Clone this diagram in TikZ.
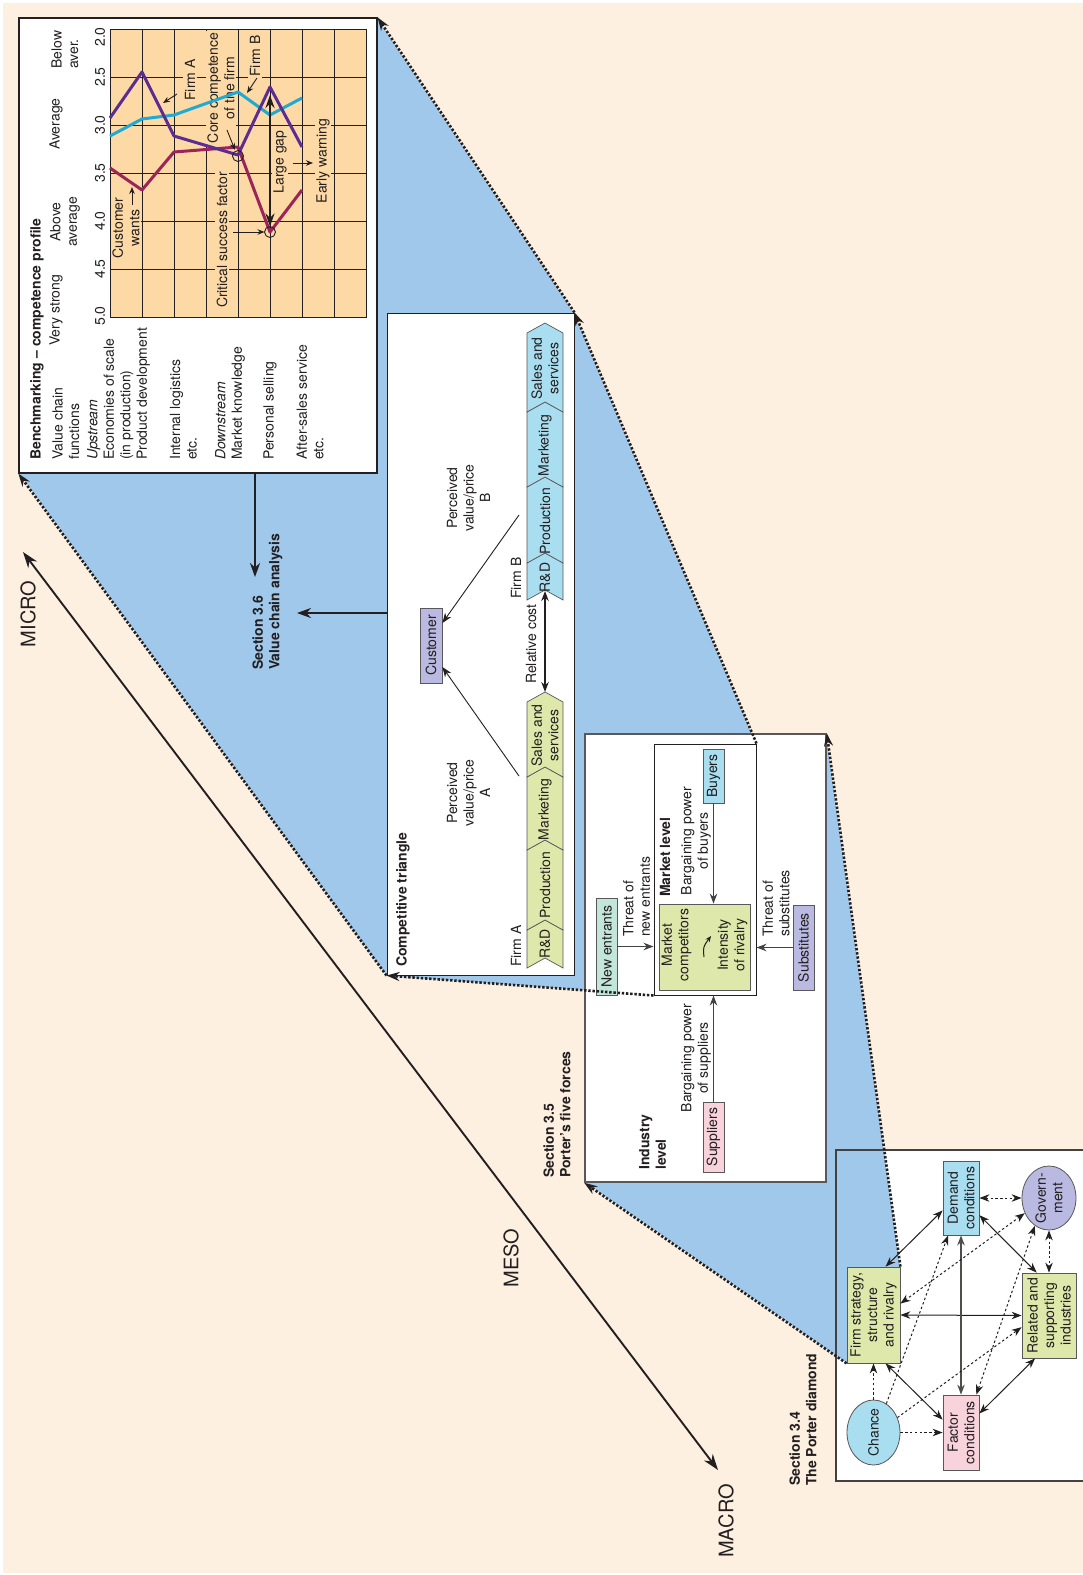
\documentclass[tikz,border=0pt]{standalone}
\usepackage{fontspec}
\setmainfont{TeX Gyre Heros}
\usetikzlibrary{arrows.meta,shapes.geometric}

\definecolor{cream}{HTML}{FDF0E0}
\definecolor{skyfill}{HTML}{9FC8EA}
\definecolor{gridfill}{HTML}{FDD9A5}
\definecolor{greenbox}{HTML}{DDE8AA}
\definecolor{cyanbox}{HTML}{A8DEF0}
\definecolor{lavbox}{HTML}{B9B9E1}
\definecolor{pinkbox}{HTML}{F8D3DC}
\definecolor{mintbox}{HTML}{C2E6D9}
\definecolor{ink}{HTML}{231F20}
\definecolor{firma}{HTML}{5C2D91}
\definecolor{firmb}{HTML}{1EAAD2}
\definecolor{custw}{HTML}{9C2459}

\newcommand\fs{\fontsize{14}{16.5}\selectfont}
\newcommand\flarge{\fontsize{20}{24}\selectfont}
% one value-chain chevron: left x, middle x, right x, bottom y, top y, fill
\newcommand\chevron[6]{%
  \filldraw[fill=#6, draw=ink!75, line width=0.7pt]
    (#1,#4) -- (#2,{#4-10}) -- (#3,#4) -- (#3,#5) -- (#2,{#5-10}) -- (#1,#5) -- cycle;}

\tikzset{
  rt/.style={rotate=90, inner sep=0pt, font=\fs, text=ink},
  rtl/.style={rt, anchor=west, align=left},
  rtc/.style={rt, align=center},
  onorange/.style={fill=gridfill, inner sep=1.5pt},
  panel/.style={draw=ink, line width=1pt, inner sep=0pt},
  smallbox/.style={draw=ink!75, line width=0.8pt, inner sep=0pt},
  oval/.style={ellipse, draw=ink!75, line width=0.8pt, inner sep=0pt},
  arr/.style={-{Stealth[length=7pt,width=5.5pt]}},
  darr/.style={{Stealth[length=7pt,width=5.5pt]}-{Stealth[length=7pt,width=5.5pt]}},
  farr/.style={-{Stealth[length=10pt,width=7.5pt]}},
  dfarr/.style={{Stealth[length=10pt,width=7.5pt]}-{Stealth[length=10pt,width=7.5pt]}},
  bigarr/.style={line width=2.2pt, -{Stealth[length=14pt,width=10pt]}},
  proj/.style={draw=ink, line width=2.6pt, dash pattern=on 2.4pt off 1.8pt,
    -{Stealth[length=13pt,width=9pt]}},
  dots/.style={dash pattern=on 2.4pt off 2.4pt},
  series/.style={line width=3pt, line join=round},
  gridline/.style={draw=ink, line width=0.8pt},
}

\begin{document}
\begin{tikzpicture}[x=1pt,y=-1pt]
\useasboundingbox (0,0) rectangle (1083,1575);
\fill[white] (0,0) rectangle (1083,1575);
\fill[cream] (3,3) rectangle (1083,1573);

% white ground of the diamond panel, then the blue projection band
\fill[white] (836,1150) rectangle (1090,1481);
\fill[skyfill] (19,473) -- (19,18) -- (377,18) -- (574,313) -- (756,744) -- (826,734)
  -- (900,1267) -- (847,1363) -- (585,1182) -- (585,990) -- (387,976) -- cycle;

% ---------------- panels
\node[panel, draw=ink!85, line width=1.2pt, minimum width=254pt, minimum height=331pt] (diamond) at (963,1315.5) {};
\node[panel, line width=1.2pt, fill=white, minimum width=358pt, minimum height=455pt] (chart) at (198,245.5) {};
\node[panel, fill=white, minimum width=187pt, minimum height=662pt] (tri) at (480.5,644) {};
\node[panel, draw=ink!75, line width=1.5pt, fill=white, minimum width=241pt, minimum height=448pt] (ff) at (705.5,958) {};
\node[panel, fill=white, minimum width=102pt, minimum height=251pt] (mkt) at (705,869.5) {};

% ---------------- micro / meso / macro axis
\coordinate (microend) at (23,552);
\coordinate (macroend) at (718,1470);
\draw[ink, line width=1.9pt, {Stealth[length=16pt,width=11pt]}-{Stealth[length=16pt,width=11pt]}] (microend) -- (macroend);
\node[rt, font=\flarge] (micro) at (28,614) {MICRO};
\node[rt, font=\flarge] (meso) at (511,1258) {MESO};
\node[rt, font=\flarge] (macro) at (726,1521) {MACRO};

% ---------------- benchmarking chart
\fill[gridfill] (110,29) rectangle (366,317);
\foreach \x in {142,174,...,334} \draw[gridline] (\x,29) -- (\x,317);
\foreach \y in {77,125,...,269} \draw[gridline] (110,\y) -- (366,\y);
\draw[gridline, line width=0.9pt] (110,29) rectangle (366,317);

\node[rt] (v20) at (100,37) {2.0};
\node[rt] (v25) at (100,77) {2.5};
\node[rt] (v30) at (100,125) {3.0};
\node[rt] (v35) at (100,173) {3.5};
\node[rt] (v40) at (100,221) {4.0};
\node[rt] (v45) at (100,269) {4.5};
\node[rt] (v50) at (100,316) {5.0};

\node[rtl] (hbelow) at (65,69) {Below\\aver.};
\node[rtl] (haverage) at (56,150) {Average};
\node[rtc] (habove) at (65,222) {Above\\average};
\node[rtl] (hstrong) at (56,346) {Very strong};

\node[rtl, font=\fs\bfseries] (bmtitle) at (37,460) {Benchmarking – competence profile};
\node[rtl] (vcf) at (66,460) {Value chain\\functions};
\node[rtl] (upstream) at (118.5,460) {\textit{Upstream}\\Economies of scale\\(in production)\\Product development};
\node[rtl] (logistics) at (183.5,460) {Internal logistics\\etc.};
\node[rtl] (downstream) at (230,460) {\textit{Downstream}\\Market knowledge};
\node[rtl] (selling) at (270,460) {Personal selling};
\node[rtl] (aftersales) at (310,460) {After-sales service\\etc.};

% chart annotations
\node[rtc, onorange] (lfirma) at (190,80) {Firm A};
\node[rtc, onorange] (lcore) at (221,88) {Core competence\\of the firm};
\node[rtc, onorange] (lfirmb) at (255,56) {Firm B};
\node[rtc, onorange] (lcust) at (126,228) {Customer\\wants};
\node[rtc, onorange] (lcsf) at (222,240) {Critical success factor};
\node[rtc, onorange] (lgap) at (280,162) {Large gap};
\node[rtc, onorange] (lwarn) at (323,161) {Early warning};

\draw[series, custw] (110,168) -- (142,190) -- (174,152) -- (238,147) -- (270,232) -- (302,190);
\draw[series, firmb] (110,136) -- (142,119) -- (174,115) -- (238,92) -- (270,115) -- (302,98);
\draw[series, firma] (110,118) -- (142,72) -- (174,136) -- (238,155) -- (270,87) -- (302,147);

\coordinate (core) at (238,156);
\coordinate (csf) at (270,232);
\draw[ink, line width=0.9pt] (core) circle[radius=5.5pt];
\draw[ink, line width=0.9pt] (csf) circle[radius=5.5pt];

\coordinate (afrom) at (177,94);   \coordinate (ato) at (163,103);
\draw[ink, line width=0.9pt, arr] (afrom) -- (ato);
\coordinate (bfrom) at (257,78);   \coordinate (bto) at (247,93);
\draw[ink, line width=0.9pt, arr] (bfrom) -- (bto);
\coordinate (cfrom) at (227,130);  \coordinate (cto) at (235,150);
\draw[ink, line width=0.9pt, arr] (cfrom) -- (cto);
\coordinate (wfrom) at (132,205);  \coordinate (wto) at (132,187);
\draw[ink, line width=0.9pt, arr] (wfrom) -- (wto);
\coordinate (sfrom) at (233,232);
\draw[ink, line width=0.9pt, arr] (sfrom) -- ([xshift=-5.5pt]csf);
\coordinate (ewfrom) at (293,163); \coordinate (ewto) at (313,163);
\draw[ink, line width=0.9pt, arr] (ewfrom) -- (ewto);
\coordinate (gaptop) at (270,95);
\draw[ink, line width=2.2pt, {Stealth[length=13pt,width=9pt]}-{Stealth[length=13pt,width=9pt]}] (gaptop) -- ([yshift=5.5pt]csf);

% ---------------- section 3.6 and its arrows
\node[rtl, font=\fs\bfseries] (sec36) at (267.5,670) {Section 3.6\\Value chain analysis};
\coordinate (chartfoot) at (255,577);
\draw[ink, bigarr] ([xshift=57pt]chart.south) -- (chartfoot);
\coordinate (trifoot) at (297,613);
\draw[ink, bigarr] ([yshift=31pt]tri.west) -- (trifoot);

% ---------------- competitive triangle
\node[rtl, font=\fs\bfseries] (cttitle) at (403,967) {Competitive triangle};

\chevron{527}{545}{563}{968}{930}{greenbox}
\chevron{527}{545}{563}{930}{850}{greenbox}
\chevron{527}{545}{563}{850}{777}{greenbox}
\chevron{527}{545}{563}{777}{702}{greenbox}
\node[rt] (ard) at (545,944) {R\&D};
\node[rt] (aprod) at (545,885) {Production};
\node[rt] (amark) at (545,809.5) {Marketing};
\node[rtc] (asales) at (545,735.5) {Sales and\\services};

\chevron{527}{545}{563}{600}{563}{cyanbox}
\chevron{527}{545}{563}{563}{487}{cyanbox}
\chevron{527}{545}{563}{487}{412}{cyanbox}
\chevron{527}{545}{563}{412}{333}{cyanbox}
\node[rt] (brd) at (545,577.5) {R\&D};
\node[rt] (bprod) at (545,521) {Production};
\node[rt] (bmark) at (545,445.5) {Marketing};
\node[rtc] (bsales) at (545,368.5) {Sales and\\services};

\node[rtl] (firmalbl) at (516,967) {Firm A};
\node[rtl] (firmblbl) at (516,599) {Firm B};

\node[smallbox, fill=lavbox, minimum width=22pt, minimum height=75pt] (cust) at (431,645.5) {};
\node[rt] (custt) at (cust) {Customer};

\coordinate (faedge) at (519,776);
\coordinate (fbedge) at (519,515);
\draw[ink, line width=0.9pt, farr] (faedge) -- ([yshift=-21.5pt]cust.east);
\draw[ink, line width=0.9pt, farr] (fbedge) -- ([yshift=22.5pt]cust.east);
\node[rtc] (pva) at (468.5,793) {Perceived\\value/price\\A};
\node[rtc] (pvb) at (468.5,498) {Perceived\\value/price\\B};

\coordinate (fbfoot) at (545,591);
\coordinate (fatip) at (545,692);
\draw[ink, line width=1.4pt, dfarr] (fbfoot) -- (fatip);
\node[rt] (relcost) at (531,644) {Relative cost};

% ---------------- five forces
\node[rtl, font=\fs\bfseries] (mktlbl) at (665,897) {Market level};
\node[rtc] (bpb) at (696,841) {Bargaining power\\of buyers};
\node[smallbox, fill=cyanbox, minimum width=21pt, minimum height=54pt] (buyers) at (713.5,776) {};
\node[rt] (buyerst) at (buyers) {Buyers};
\node[smallbox, fill=greenbox, minimum width=91pt, minimum height=86pt] (comp) at (704.5,947) {};
\node[rtc] (compt) at (676.5,945) {Market\\competitors};
\node[rtc] (rivt) at (732.5,945) {Intensity\\of rivalry};
\coordinate (rivfrom) at (704,957);
\coordinate (rivto) at (711,936);
\draw[ink, line width=1pt, -{Stealth[length=6pt,width=5pt]}] (rivfrom) .. controls (703,947) .. (rivto);

\node[smallbox, fill=mintbox, minimum width=21pt, minimum height=97pt] (newent) at (606.5,946.5) {};
\node[rt] (newentt) at (newent) {New entrants};
\node[rtl] (thne) at (636.5,937) {Threat of\\new entrants};
\node[smallbox, fill=lavbox, minimum width=21pt, minimum height=85pt] (subst) at (803.5,947.5) {};
\node[rt] (substt) at (subst) {Substitutes};
\node[rtl] (thsub) at (776,937) {Threat of\\substitutes};
\node[smallbox, fill=pinkbox, minimum width=21pt, minimum height=70pt] (suppl) at (713.5,1137) {};
\node[rt] (supplt) at (suppl) {Suppliers};
\node[rtc] (bps) at (696,1058) {Bargaining power\\of suppliers};
\node[rtl, font=\fs\bfseries] (indlvl) at (652.5,1170) {Industry\\level};
\node[rtl, font=\fs\bfseries] (sec35) at (557,1178) {Section 3.5\\Porter’s five forces};

\begin{scope}[ink!85, line width=1.3pt]
\draw[farr] (buyers.south) -- (buyers.south |- comp.north);
\draw[farr] (suppl.north) -- (suppl.north |- mkt.south);
\draw[farr] (newent.east) -- (newent.east -| mkt.west);
\draw[farr] (subst.west) -- (subst.west -| mkt.east);
\end{scope}

% ---------------- Porter diamond
\node[smallbox, fill=cyanbox, minimum width=36pt, minimum height=74pt] (demand) at (961,1198) {};
\node[rtc] (demandt) at (demand) {Demand\\conditions};
\node[oval, fill=lavbox, minimum width=54pt, minimum height=64pt] (gov) at (1049,1198) {};
\node[rtc] (govt) at (gov) {Govern-\\ment};
\node[smallbox, fill=greenbox, minimum width=53pt, minimum height=96pt] (firm) at (873.5,1315) {};
\node[rtc] (firmt) at (firm) {Firm strategy,\\structure\\and rivalry};
\node[smallbox, fill=greenbox, minimum width=54pt, minimum height=85pt] (related) at (1049,1315.5) {};
\node[rtc] (relatedt) at (related) {Related and\\supporting\\industries};
\node[smallbox, fill=pinkbox, minimum width=36pt, minimum height=75pt] (factor) at (961,1432.5) {};
\node[rtc] (factort) at (factor) {Factor\\conditions};
\node[oval, fill=cyanbox, minimum width=53pt, minimum height=65pt] (chance) at (873.5,1432.5) {};
\node[rt] (chancet) at (chance) {Chance};
\node[rtl, font=\fs\bfseries] (sec34) at (803,1486) {Section 3.4\\The Porter diamond};

\begin{scope}[ink, line width=1pt]
\draw[dfarr] (firm.76) -- (demand.214);
\draw[dfarr] (firm.east) -- (related.west);
\draw[dfarr] (firm.284) -- (factor.145);
\draw[dfarr] (demand.-43) -- (related.106);
\draw[dfarr, ink!80, line width=1.3pt] (demand.south) -- (factor.north);
\draw[dfarr] (related.252) -- (factor.46);
\draw[dfarr, dots] (demand.east) -- (gov.west);
\draw[dfarr, dots] (gov.south) -- (related.north);
\draw[dfarr, dots] (gov.212) -- (firm.23);
\draw[dfarr, dots] (gov.243) -- (factor.68);
\draw[farr, dots] (chance.north) -- (firm.south);
\draw[farr, dots] (chance.east) -- (factor.west);
\draw[farr, dots] (chance.66) -- (demand.251);
\draw[farr, dots] (chance.32) -- (related.203);
\end{scope}

% ---------------- projection lines between the levels
\draw[proj] (tri.south west) -- (chart.south west);
\draw[proj] (tri.north east) -- (chart.north east);
\draw[proj] (mkt.north east) -- (tri.north east);
\draw[proj] (mkt.south west) -- (tri.south west);
\draw[proj] (firm.north east) -- (ff.north east);
\draw[proj] (firm.south west) -- (ff.south west);
\end{tikzpicture}
\end{document}
